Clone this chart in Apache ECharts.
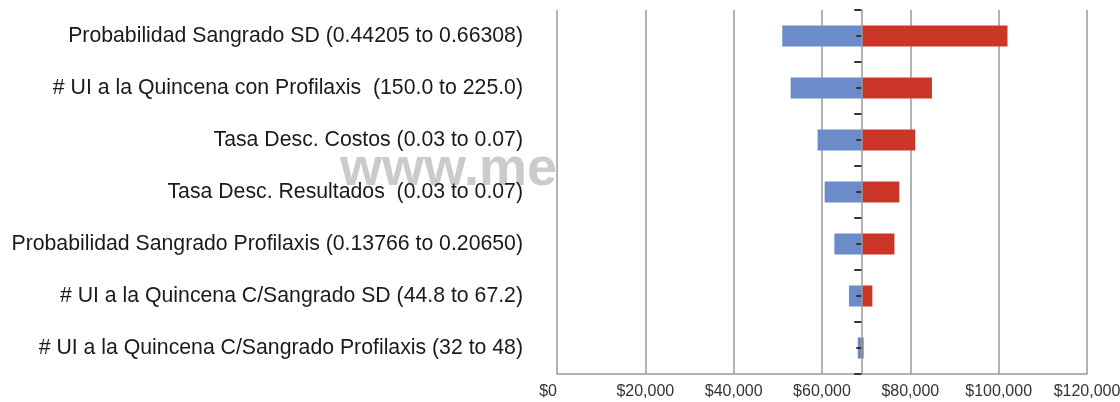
<!DOCTYPE html>
<html>
<head>
<meta charset="utf-8">
<script src="https://cdn.jsdelivr.net/npm/echarts@6/dist/echarts.min.js"></script>
<style>
html,body{margin:0;padding:0;background:#fff;}
#chart{width:1120px;height:402px;}
</style>
</head>
<body>
<div id="chart"></div>
<script>
var categories = [
  "Probabilidad Sangrado SD (0.44205 to 0.66308)",
  "# UI a la Quincena con Profilaxis  (150.0 to 225.0)",
  "Tasa Desc. Costos (0.03 to 0.07)",
  "Tasa Desc. Resultados  (0.03 to 0.07)",
  "Probabilidad Sangrado Profilaxis (0.13766 to 0.20650)",
  "# UI a la Quincena C/Sangrado SD (44.8 to 67.2)",
  "# UI a la Quincena C/Sangrado Profilaxis (32 to 48)"
];
var baseValue = 68900;
var lowValues = [51000, 52900, 59000, 60600, 62800, 66100, 68100];
var highValues = [102000, 84900, 81100, 77500, 76400, 71400, 69400];
var xTicks = [0, 20000, 40000, 60000, 80000, 100000, 120000];

var offsetVals = lowValues.map(function(v){ return Math.min(v, baseValue); });
var blueVals = lowValues.map(function(v){ return baseValue - v; });
var redVals = highValues.map(function(v){ return v - baseValue; });

var GRID_LEFT = 557, GRID_RIGHT = 33, GRID_TOP = 10, GRID_BOTTOM = 28;
var chart = echarts.init(document.getElementById('chart'), null, {renderer:'canvas'});
var font = 'Liberation Sans, Arial, sans-serif';

function buildOption(axisPx) {
  return {
    animation: false,
    backgroundColor: '#fff',
    grid: [
      { left: GRID_LEFT, right: GRID_RIGHT, top: GRID_TOP, bottom: GRID_BOTTOM, show: true, backgroundColor: '#fff', borderWidth: 0, containLabel: false, outerBoundsMode: 'none' },
      { left: axisPx, width: 1, top: GRID_TOP, bottom: GRID_BOTTOM, show: false, containLabel: false, outerBoundsMode: 'none' }
    ],
    graphic: [{
      type: 'text', left: 340, top: 143, z: -10,
      style: { text: 'www.me', fill: '#cbcbcb', font: 'bold 54px ' + font }
    }],
    xAxis: [
      {
        type: 'value', gridIndex: 0, min: xTicks[0], max: xTicks[xTicks.length-1], interval: xTicks[1]-xTicks[0],
        axisLine: { show: true, lineStyle: { color: '#9a9a9e', width: 1.5 } },
        axisTick: { show: false },
        splitLine: { show: true, lineStyle: { color: '#9a9a9e', width: 1.5 } },
        axisLabel: {
          color: '#333', fontSize: 16, fontFamily: font, margin: 10, alignMinLabel: 'right',
          formatter: function(v){ return '$' + v.toLocaleString('en-US'); }
        }
      },
      { type: 'value', gridIndex: 1, show: false, min: 0, max: 1 }
    ],
    yAxis: [
      {
        type: 'category', gridIndex: 0, position: 'left', data: categories, inverse: true,
        axisLine: { show: false }, axisTick: { show: false },
        axisLabel: { color: '#1a1a1a', fontSize: 21.25, fontFamily: font, margin: 34 }
      },
      {
        type: 'category', gridIndex: 1, position: 'left', data: categories, inverse: true, z: 10,
        axisLine: { show: true, onZero: false, lineStyle: { color: '#9a9a9e', width: 1.5 } },
        axisTick: { show: true, length: 7, lineStyle: { color: '#333', width: 2 } },
        axisLabel: { show: false }, splitLine: { show: false }
      },
      {
        type: 'category', gridIndex: 1, position: 'left', data: categories, inverse: true, z: 11,
        axisLine: { show: false, onZero: false },
        axisTick: { show: true, alignWithLabel: true, length: 5, lineStyle: { color: '#333', width: 2 } },
        axisLabel: { show: false }, splitLine: { show: false }
      }
    ],
    series: [
      { type: 'bar', stack: 't', data: offsetVals, barWidth: 21, itemStyle: { color: 'rgba(0,0,0,0)' }, silent: true },
      { type: 'bar', stack: 't', data: blueVals, barWidth: 21, itemStyle: { color: '#6b8cc8' } },
      { type: 'bar', stack: 't', data: redVals, barWidth: 21, itemStyle: { color: '#cb3628' } }
    ]
  };
}
chart.setOption(buildOption(GRID_LEFT));
var px = chart.convertToPixel({xAxisIndex: 0}, baseValue);
chart.setOption(buildOption(px), true);
</script>
</body>
</html>
